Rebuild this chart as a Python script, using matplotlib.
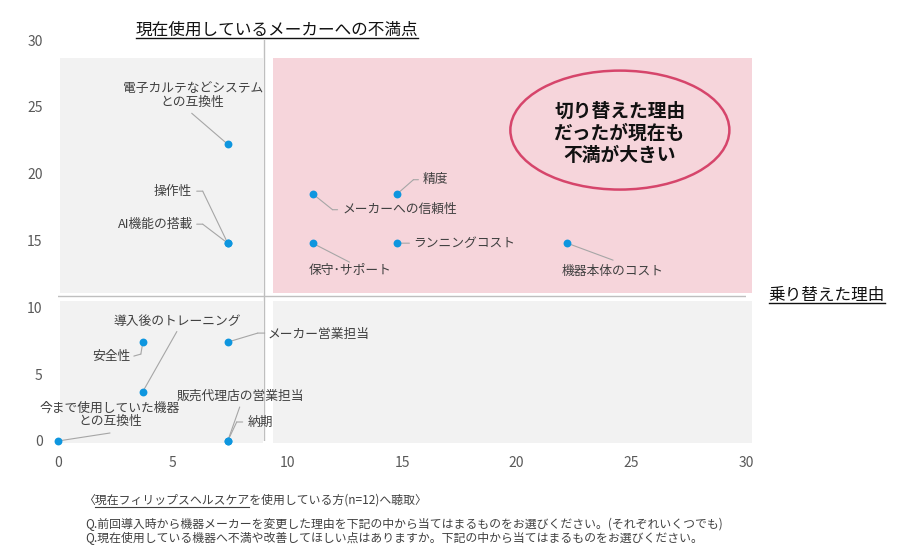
import matplotlib
matplotlib.use('Agg')
import matplotlib.pyplot as plt
from matplotlib.patches import Rectangle, Ellipse
from matplotlib.lines import Line2D
from matplotlib.transforms import offset_copy

plt.rcParams['font.family'] = ['Noto Sans CJK JP', 'DejaVu Sans']

# data (share of respondents, %)
labels = ['電子カルテなどシステム\nとの互換性', '操作性', 'AI機能の搭載', 'メーカーへの信頼性',
          '精度', 'ランニングコスト', '保守･サポート', '機器本体のコスト', '安全性',
          '導入後のトレーニング', 'メーカー営業担当', '販売代理店の営業担当', '納期',
          '今まで使用していた機器\nとの互換性']
switch_reason = [7.4, 7.4, 7.4, 11.1, 14.8, 14.8, 11.1, 22.2, 3.7, 3.7, 7.4, 7.4, 7.4, 0.0]
dissatisfaction = [22.2, 14.8, 14.8, 18.5, 18.5, 14.8, 14.8, 14.8, 7.4, 3.7, 7.4, 0.0, 0.0, 0.0]
ticks = [0, 5, 10, 15, 20, 25, 30]

# label placement: text offset (px), alignment, leader path offsets (px)
label_layout = {
    '電子カルテなどシステム\nとの互換性': ((-35, 49), 'center', [(-36, 31)]),
    '操作性': ((-36, 52), 'right', [(-25, 52), (-31, 52)]),
    'AI機能の搭載': ((-35, 19), 'right', [(-25, 19), (-31, 19)]),
    'メーカーへの信頼性': ((30, -16), 'left', [(20, -16), (25, -16)]),
    '精度': ((25, 14), 'left', [(16, 14), (21, 14)]),
    'ランニングコスト': ((16, 0), 'left', [(12, 0)]),
    '保守･サポート': ((-4, -27), 'left', [(37, -19)]),
    '機器本体のコスト': ((-5, -28), 'left', [(46, -17)]),
    '安全性': ((-12, -14), 'right', [(-2, -12), (-9, -14)]),
    '導入後のトレーニング': ((34, 70), 'center', [(34, 60)]),
    'メーカー営業担当': ((40, 8), 'left', [(30, 9), (37, 9)]),
    '販売代理店の営業担当': ((13, 45), 'center', [(12, 34)]),
    '納期': ((20, 19), 'left', [(9, 19), (15, 19)]),
    '今まで使用していた機器\nとの互換性': ((52, 26), 'center', [(52, 8)]),
}

W, H = 906, 556
fig = plt.figure(figsize=(W / 100, H / 100), dpi=100)
ax = fig.add_axes([58 / W, 1 - 441 / H, 688 / W, 401 / H])
ax.set_xlim(0, 30)
ax.set_ylim(0, 30)
for s in ax.spines.values():
    s.set_visible(False)
ax.set_xticks(ticks)
ax.set_yticks(ticks)
ax.tick_params(length=0, labelsize=10, labelcolor='#595959', pad=11)

# background blocks
gray = '#F2F2F2'
pink = '#F6D5DB'
ax.add_patch(Rectangle((0.09, 11.07), 8.85, 17.58, fc=gray, ec='none', zorder=0, clip_on=False))
ax.add_patch(Rectangle((9.38, 11.07), 20.88, 17.58, fc=pink, ec='none', zorder=0, clip_on=False))
ax.add_patch(Rectangle((0.09, -0.15), 8.85, 10.62, fc=gray, ec='none', zorder=0, clip_on=False))
ax.add_patch(Rectangle((9.38, -0.15), 20.88, 10.62, fc=gray, ec='none', zorder=0, clip_on=False))

# axis crossing lines
ax.axvline(9, color='#BFBFBF', lw=1, zorder=1)
ax.axhline(10.85, color='#BFBFBF', lw=1, zorder=1)

# highlight ellipse
ax.add_patch(Ellipse((24.5, 23.26), 9.55, 8.9, fc='none', ec='#D6456B', lw=1.8, zorder=2))
ax.text(24.5, 23.0, '切り替えた理由\nだったが現在も\n不満が大きい', ha='center', va='center',
        fontsize=13.5, fontweight='bold', color='#111111', linespacing=1.2, zorder=3)

# leaders and labels
for lab, x, y in zip(labels, switch_reason, dissatisfaction):
    (dx, dy), ha, path = label_layout[lab]
    pts = [(0, 0)] + path
    for (x1, y1), (x2, y2) in zip(pts[:-1], pts[1:]):
        ax.annotate('', xy=(x, y), xycoords=offset_copy(ax.transData, fig=fig, x=x2, y=y2, units='dots'),
                    xytext=(x, y), textcoords=offset_copy(ax.transData, fig=fig, x=x1, y=y1, units='dots'),
                    arrowprops=dict(arrowstyle='-', color='#A6A6A6', lw=0.8, shrinkA=0, shrinkB=0),
                    annotation_clip=False, zorder=3)
    ax.annotate(lab, xy=(x, y), xytext=(dx, dy), textcoords='offset pixels', ha=ha, va='center',
                multialignment='center', fontsize=9.2, color='#404040', linespacing=1.05,
                annotation_clip=False, zorder=4)

ax.scatter(switch_reason, dissatisfaction, s=32, color='#0E96DF', linewidths=0, zorder=5, clip_on=False)

fig.canvas.draw()
r = fig.canvas.get_renderer()


def underline(x0, x1, y, color, lw=1.0):
    # x0, x1, y in reference pixels (top-left origin)
    fig.add_artist(Line2D([x0 / W, x1 / W], [1 - y / H, 1 - y / H], color=color, lw=lw))


t1 = fig.text(277 / W, 1 - 30 / H, '現在使用しているメーカーへの不満点', ha='center', va='center',
              fontsize=12, color='#111111')
t2 = fig.text(827 / W, 1 - 295 / H, '乗り替えた理由', ha='center', va='center',
              fontsize=12, color='#111111')
for t, yline in ((t1, 37.5), (t2, 303)):
    bb = t.get_window_extent(r)
    underline(bb.x0, bb.x1, yline, '#111111')

# footnotes
note_fs = 8.55
n1 = fig.text(83 / W, 1 - 500 / H, '〈現在フィリップスヘルスケアを使用している方(n=12)へ聴取〉',
              ha='left', va='center', fontsize=note_fs, color='#404040')
fig.text(85 / W, 1 - 524 / H, 'Q.前回導入時から機器メーカーを変更した理由を下記の中から当てはまるものをお選びください。(それぞれいくつでも)',
         ha='left', va='center', fontsize=note_fs, color='#404040')
fig.text(85 / W, 1 - 538 / H, 'Q.現在使用している機器へ不満や改善してほしい点はありますか。下記の中から当てはまるものをお選びください。',
         ha='left', va='center', fontsize=note_fs, color='#404040')

# underline only the company name in the first note
tmp_a = fig.text(0, 0, '〈', fontsize=note_fs)
tmp_b = fig.text(0, 0, '〈現在フィリップスヘルスケア', fontsize=note_fs)
wa = tmp_a.get_window_extent(r).width
wb = tmp_b.get_window_extent(r).width
tmp_a.remove()
tmp_b.remove()
bb = n1.get_window_extent(r)
underline(bb.x0 + wa, bb.x0 + wb, 506.5, '#404040', lw=0.8)

fig.savefig('out.png', dpi=100)
